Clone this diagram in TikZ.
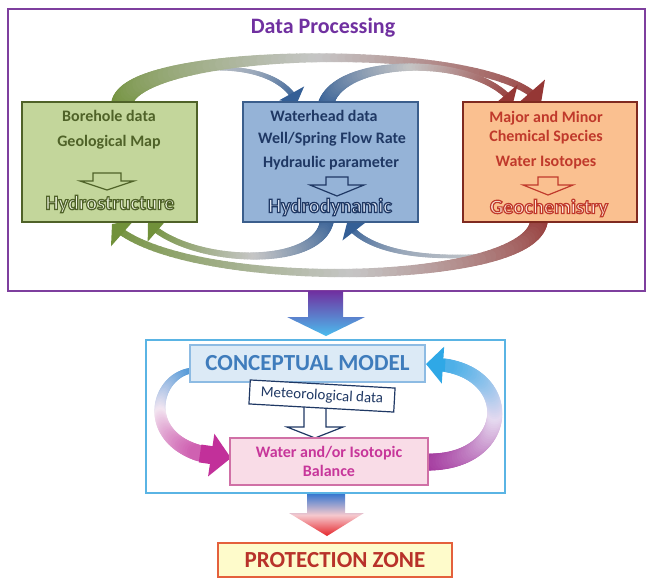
\documentclass[tikz,border=0pt]{standalone}
\usepackage{fontspec}
\setmainfont{Carlito}
\usetikzlibrary{arrows.meta,calc}

\definecolor{frameP}{HTML}{7E3F9E}
\definecolor{titleP}{HTML}{7030A0}
\definecolor{gFill}{HTML}{C3D69B}
\definecolor{gLine}{HTML}{4F6228}
\definecolor{gHollow}{HTML}{EEF3E0}
\definecolor{bFill}{HTML}{95B3D7}
\definecolor{bLine}{HTML}{3B5E8C}
\definecolor{bText}{HTML}{1F3864}
\definecolor{bHollow}{HTML}{DCE4F2}
\definecolor{oFill}{HTML}{FAC090}
\definecolor{oLine}{HTML}{7F2A20}
\definecolor{oText}{HTML}{C0392B}
\definecolor{oHollow}{HTML}{FDE6D8}
\definecolor{greenArc}{HTML}{71913A}
\definecolor{redArc}{HTML}{953735}
\definecolor{blueArc}{HTML}{345F96}
\definecolor{skyB}{HTML}{4BBDEE}
\definecolor{skyFrame}{HTML}{5AB4E4}
\definecolor{cmFill}{HTML}{DCEAF6}
\definecolor{cmLine}{HTML}{8DBBE3}
\definecolor{cmText}{HTML}{3F7CBC}
\definecolor{wbFill}{HTML}{F9DCE7}
\definecolor{wbLine}{HTML}{D070A6}
\definecolor{wbText}{HTML}{C7369A}
\definecolor{dBlue}{HTML}{3A78CF}
\definecolor{paleR}{HTML}{F6C9CE}
\definecolor{dRed}{HTML}{E5252B}
\definecolor{pzFill}{HTML}{FEFBCB}
\definecolor{pzLine}{HTML}{E4603C}
\definecolor{pzText}{HTML}{B8322A}
\definecolor{lA}{HTML}{3B8ED4}
\definecolor{lM}{HTML}{F3E6F1}
\definecolor{lB}{HTML}{C2309A}
\definecolor{rA}{HTML}{A0309A}
\definecolor{rM}{HTML}{E6DAF0}
\definecolor{rB}{HTML}{2FA8E6}

% outlined (hollow) text: #1 stroke colour as "r g b", #2 text
\newcommand\hollowtext[2]{\special{pdf:literal direct #1 RG 1.2 w 2 Tr}#2\special{pdf:literal direct 0 Tr}}

\newcommand\setgrad[3]{\colorlet{gca}{#1}\colorlet{gcm}{#2}\colorlet{gcb}{#3}}
\def\taperpow{1}
% #1 start #2 c1 #3 c2 #4 end #5 w1 #6 w2 #7 head width #8 head length #9 stop index
\newcommand\gradarrow[9]{%
  \foreach \k in {0,...,80}{%
    \pgfmathsetmacro\gt{\k/80}%
    \path (#1) .. controls (#2) and (#3) .. (#4) coordinate[pos=\gt] (gp\k);%
  }%
  \pgfmathtruncatemacro\stopm{#9-1}%
  \foreach \k in {0,...,\stopm}{%
    \pgfmathtruncatemacro\kk{\k+1}%
    \pgfmathsetmacro\gt{(\k+0.5)/80}%
    \pgfmathsetmacro\lw{#6+(#5-#6)*(1-\gt)^\taperpow}%
    \ifdim\gt pt<0.5pt
      \pgfmathtruncatemacro\pc{200*\gt}%
      \colorlet{segc}{gcm!\pc!gca}%
    \else
      \pgfmathtruncatemacro\pc{200*\gt-100}%
      \colorlet{segc}{gcb!\pc!gcm}%
    \fi
    \draw[line width=\lw pt, line cap=round, segc] (gp\k) -- (gp\kk);%
  }%
  \draw[line width=#6pt, gcb, -{Triangle[width=#7pt,length=#8pt]}] (gp#9) -- (gp80);%
}

\tikzset{
  databox/.style={line width=2pt, minimum width=175pt, minimum height=120pt, inner sep=0pt},
  boxtext/.style={font=\bfseries\fontsize{16}{19}\selectfont},
  hollow/.style={font=\bfseries\fontsize{20.5}{23}\selectfont},
  openarrow/.style={line width=1.2pt},
}

\begin{document}
\begin{tikzpicture}[x=1pt,y=-1pt]
\useasboundingbox (0,0) rectangle (647,579);
\fill[white] (0,0) rectangle (647,579);

% ---------- upper frame ----------
\node[draw=frameP, line width=2pt, minimum width=637pt, minimum height=282pt, inner sep=0pt] (frame) at (326.5,150) {};
\node[font=\bfseries\fontsize{22}{26}\selectfont, text=titleP] (title) at (323,28) {Data Processing};

% arc coordinates
\coordinate (t1s) at (122,104); \coordinate (t1a) at (130,45); \coordinate (t1b) at (500,40); \coordinate (t1e) at (541,103);
\coordinate (t2s) at (185,72); \coordinate (t2a) at (240,62); \coordinate (t2b) at (285,75); \coordinate (t2e) at (297,103);
\coordinate (t3s) at (326,104); \coordinate (t3a) at (340,55); \coordinate (t3b) at (480,55); \coordinate (t3e) at (513,103);
\coordinate (b1s) at (539,220); \coordinate (b1a) at (535,288); \coordinate (b1b) at (180,292); \coordinate (b1e) at (112,224);
\coordinate (b2s) at (327,220); \coordinate (b2a) at (320,270); \coordinate (b2b) at (190,265); \coordinate (b2e) at (148,223);
\coordinate (b3s) at (500,254); \coordinate (b3a) at (420,262); \coordinate (b3b) at (365,250); \coordinate (b3e) at (347,223);

\def\taperpow{1}
\setgrad{gray!40}{blueArc!55!gray!60}{blueArc}
\gradarrow{t2s}{t2a}{t2b}{t2e}{3}{6}{28}{11}{73}
\def\taperpow{3}
\setgrad{greenArc}{gray!45!white}{redArc}
\gradarrow{t1s}{t1a}{t1b}{t1e}{22}{7}{36}{15}{77}
\setgrad{blueArc}{gray!45!white}{redArc}
\gradarrow{t3s}{t3a}{t3b}{t3e}{16}{6}{30}{11}{76}
\def\taperpow{1}
\setgrad{gray!40}{blueArc!55!gray!60}{blueArc}
\gradarrow{b3s}{b3a}{b3b}{b3e}{3}{6}{28}{11}{75}
\def\taperpow{3}
\setgrad{redArc}{gray!45!white}{greenArc}
\gradarrow{b1s}{b1a}{b1b}{b1e}{18}{7}{34}{14}{78}
\setgrad{blueArc}{gray!45!white}{greenArc}
\gradarrow{b2s}{b2a}{b2b}{b2e}{14}{6}{28}{12}{76}

% boxes
\node[databox, draw=gLine, fill=gFill] (gbox) at (109.5,162) {};
\node[databox, draw=bLine, fill=bFill] (bbox) at (330.5,162) {};
\node[databox, draw=oLine, fill=oFill, minimum width=174pt] (obox) at (550,162) {};

% green box content
\node[boxtext, text=gLine] (g1) at (109,116) {Borehole data};
\node[boxtext, text=gLine] (g2) at (109,142) {Geological Map};
\draw[openarrow, draw=gLine] (93,173) -- (121,173) -- (121,181) -- (134,181) -- (107,190) -- (80,181) -- (93,181) -- cycle;
\node[hollow, text=gHollow] (g3) at (110,204) {\hollowtext{0.31 0.384 0.157}{Hydrostructure}};

% blue box content
\node[boxtext, text=bText] (b1) at (324,116) {Waterhead data};
\node[boxtext, text=bText] (b2) at (332,139) {Well/Spring Flow Rate};
\node[boxtext, text=bText] (b3) at (331,163) {Hydraulic parameter};
\draw[openarrow, draw=bText] (326,177) -- (348,177) -- (348,185) -- (364,185) -- (337,196) -- (310,185) -- (326,185) -- cycle;
\node[hollow, text=bHollow] (b4) at (330,207) {\hollowtext{0.122 0.22 0.392}{Hydrodynamic}};

% orange box content
\node[boxtext, text=oText] (o1) at (546,118) {Major and Minor};
\node[boxtext, text=oText] (o2) at (546,137) {Chemical Species};
\node[boxtext, text=oText] (o3) at (546,163) {Water Isotopes};
\draw[openarrow, draw=oText] (538,177) -- (558,177) -- (558,185) -- (573,185) -- (548,195) -- (523,185) -- (538,185) -- cycle;
\node[hollow, text=oHollow] (o4) at (549,208) {\hollowtext{0.753 0.224 0.169}{Geochemistry}};

% ---------- arrow to lower frame ----------
\shade[top color=titleP, bottom color=skyB] (308,291) -- (343,291) -- (343,317) -- (365,317) -- (326,336) -- (287,317) -- (308,317) -- cycle;

% ---------- lower frame ----------
\node[draw=skyFrame, line width=2pt, minimum width=359pt, minimum height=153pt, inner sep=0pt] (lframe) at (325.5,416.5) {};

\coordinate (ls) at (196,370); \coordinate (la) at (150,372); \coordinate (lb) at (135,455); \coordinate (le) at (231,458);
\coordinate (rs) at (424,462); \coordinate (ra) at (518,465); \coordinate (rb) at (518,362); \coordinate (re) at (426,364);
\def\taperpow{1}
\setgrad{lA}{lM}{lB}
\gradarrow{ls}{la}{lb}{le}{5}{18}{42}{20}{70}
\setgrad{rA}{rM}{rB}
\gradarrow{rs}{ra}{rb}{re}{17}{13}{36}{17}{74}

\node[draw=cmLine, fill=cmFill, line width=1.5pt, minimum width=235pt, minimum height=37pt, inner sep=0pt,
      text=cmText, font=\bfseries\fontsize{23}{27}\selectfont] (cm) at (307.5,363.5) {CONCEPTUAL MODEL};

\draw[openarrow, draw=bText, fill=white] (304,405) -- (326,405) -- (326,427) -- (343,427) -- (315,438) -- (287,427) -- (304,427) -- cycle;
\node[draw=bText, fill=white, line width=1.2pt, rotate=-3.2, minimum width=145pt, minimum height=24pt, inner sep=2pt,
      text=bText, font=\fontsize{15}{18}\selectfont] (met) at (322,396) {Meteorological data};

\node[draw=wbLine, fill=wbFill, line width=1.2pt, minimum width=198pt, minimum height=47pt, inner sep=0pt, align=center,
      text=wbText, font=\bfseries\fontsize{16}{19}\selectfont] (wb) at (329,461.5) {Water and/or Isotopic\\Balance};

% ---------- arrow to protection zone ----------
\shade[top color=dBlue, bottom color=dRed, middle color=paleR] (307,494) -- (345,494) -- (345,513) -- (364,513) -- (327,536) -- (289,513) -- (307,513) -- cycle;

\node[draw=pzLine, fill=pzFill, line width=1.5pt, minimum width=234pt, minimum height=34pt, inner sep=0pt,
      text=pzText, font=\bfseries\fontsize{23}{27}\selectfont] (pz) at (335,560) {PROTECTION ZONE};
\end{tikzpicture}
\end{document}
